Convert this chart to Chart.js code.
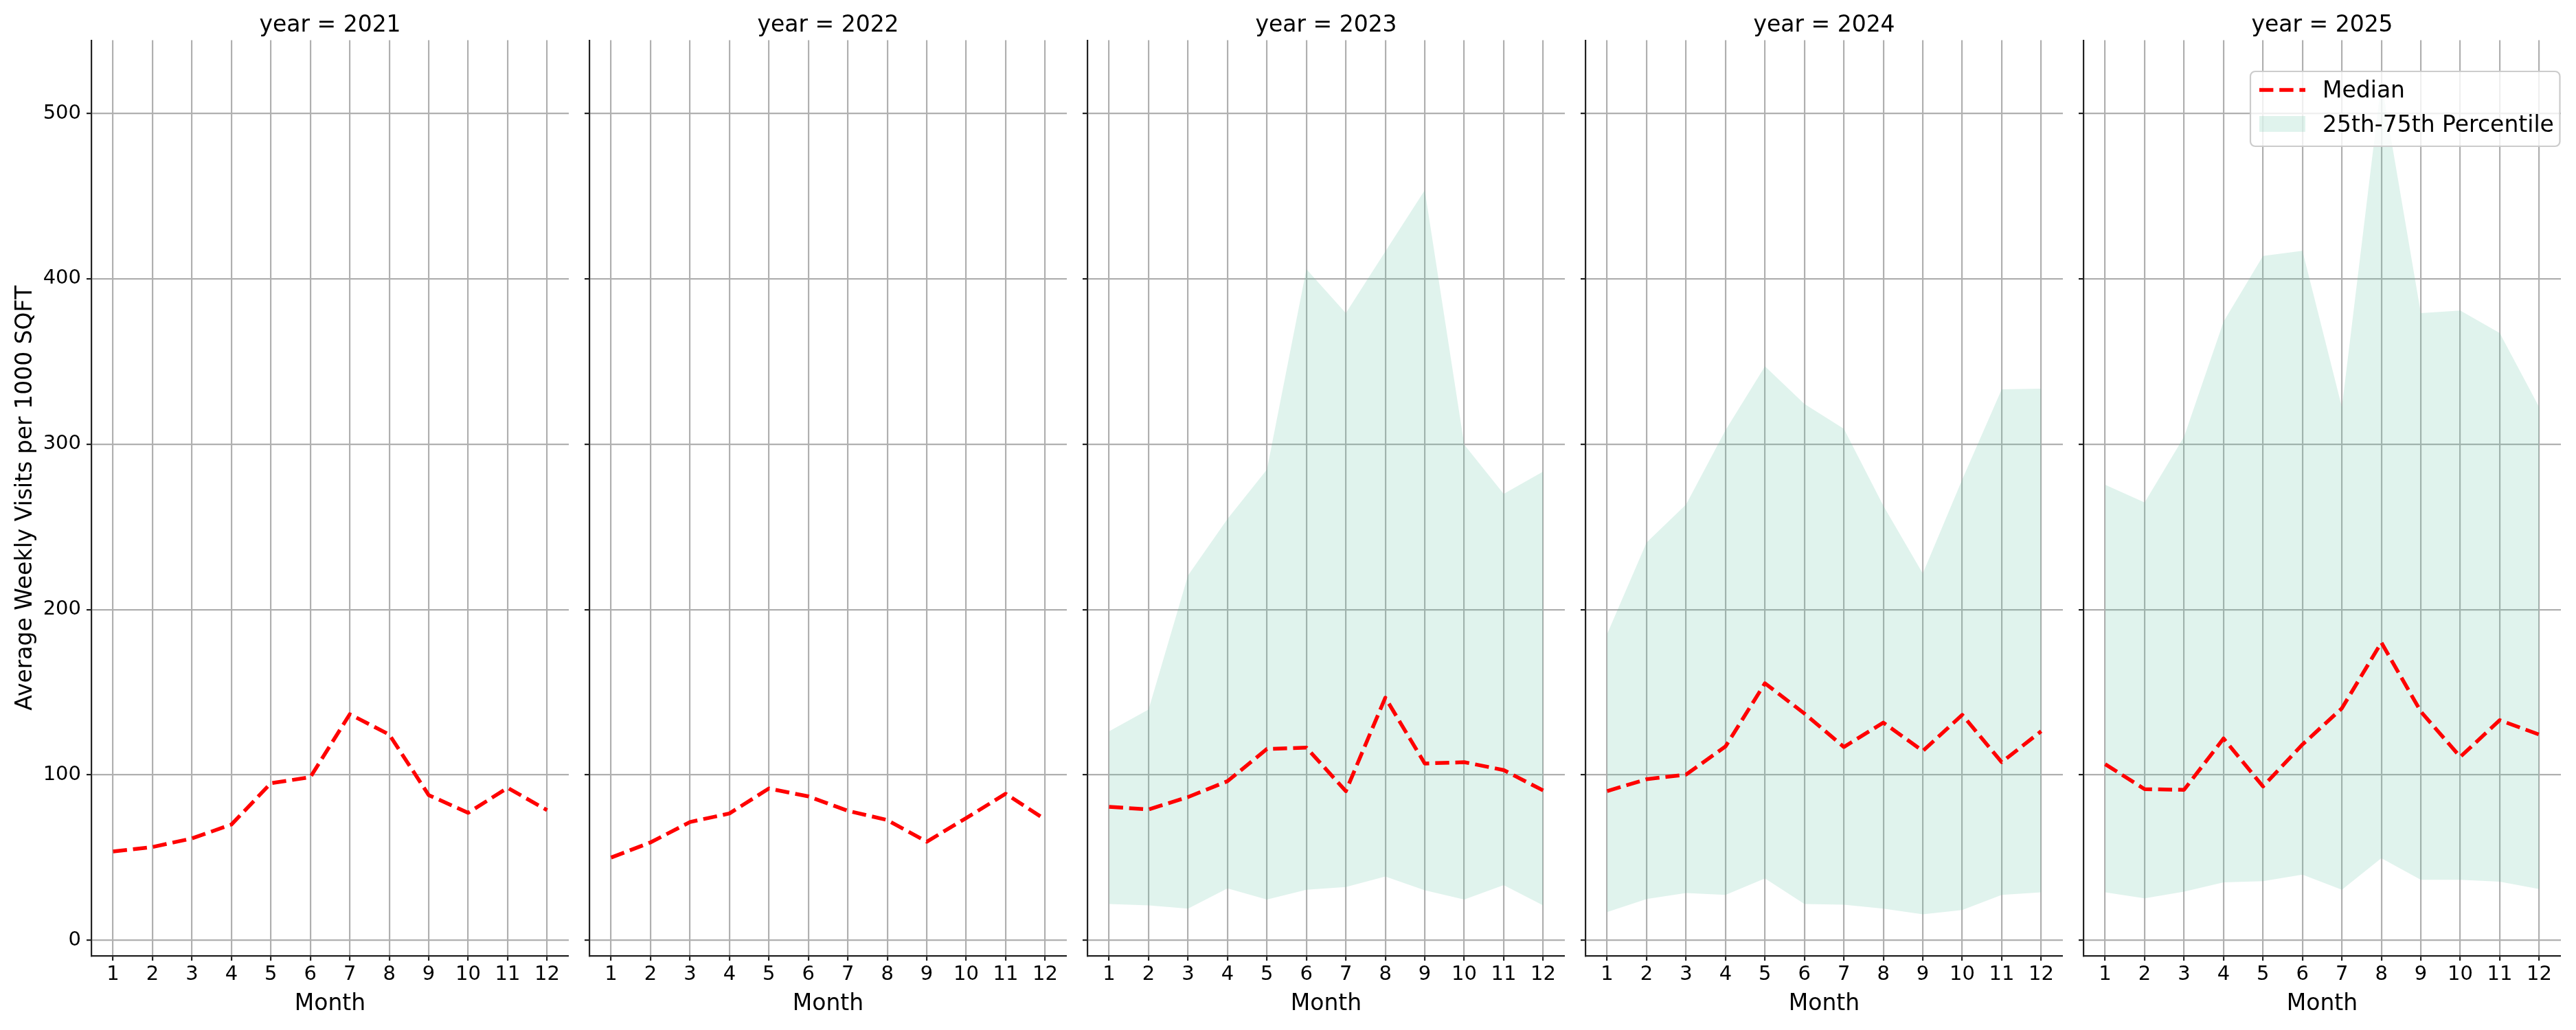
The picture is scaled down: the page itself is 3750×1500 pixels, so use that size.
<!DOCTYPE html>
<html>
<head>
<meta charset="utf-8">
<script src="https://cdn.jsdelivr.net/npm/chart.js@4.4.1/dist/chart.umd.min.js"></script>
<style>
  html, body { margin: 0; padding: 0; background: #fff; }
  #fig { position: relative; width: 3750px; height: 1500px; overflow: hidden; }
  #fig canvas { position: absolute; top: 0; }
</style>
</head>
<body>
<div id="fig"></div>
<script>
// Data
const months = [1, 2, 3, 4, 5, 6, 7, 8, 9, 10, 11, 12];
const years = [2021, 2022, 2023, 2024, 2025];
const yTicks = [0, 100, 200, 300, 400, 500];
const legendLabels = ['Median', '25th-75th Percentile'];

const median2021 = [53.7, 56.4, 61.6, 70, 95, 98.6, 136.7, 124.4, 87.8, 77.1, 92.2, 78.7];
const median2022 = [50, 59.2, 71.5, 76.7, 91.8, 87, 78.3, 72.7, 59.6, 73.9, 88.6, 73.1];
const median2023 = [80.7, 79.1, 86.6, 96.2, 115.7, 116.5, 90.2, 146.7, 106.9, 107.7, 102.9, 90.6];
const median2024 = [90.2, 97.4, 100.2, 117.2, 155.4, 137.1, 116.9, 131.6, 114.5, 136.3, 107.7, 126.4];
const median2025 = [106.5, 91.4, 91, 122, 93, 118.4, 140.3, 180, 138.3, 110.9, 133.1, 124.4];

const p25_2023 = [21.9, 21.1, 19.1, 31.4, 24.6, 30.6, 32.2, 38.6, 30.2, 24.6, 33.4, 21.1];
const p75_2023 = [126.4, 139.5, 220.6, 254.8, 284.6, 405.8, 379.2, 416.5, 453.5, 299.7, 269.9, 283.4];
const p25_2024 = [17.1, 25, 28.6, 27.4, 37.4, 21.9, 21.5, 19.1, 15.7, 18.3, 27.4, 29];
const p75_2024 = [185.2, 240.5, 263.5, 308.4, 347, 324.3, 309.2, 262.7, 221.8, 278.6, 333.1, 333.5];
const p25_2025 = [29, 25.4, 29.4, 35, 35.8, 39.7, 30.6, 49.7, 36.6, 36.6, 35.4, 31];
const p75_2025 = [275.4, 264.7, 304.5, 374, 413.8, 416.9, 322.3, 519, 379.2, 380.8, 367.2, 322.3];

const medians = [median2021, median2022, median2023, median2024, median2025];
const lowers = [null, null, p25_2023, p25_2024, p25_2025];
const uppers = [null, null, p75_2023, p75_2024, p75_2025];

// axis limits (matplotlib auto margins)
const xMin = 0.45, xMax = 12.55;
const yMin = -9.4, yMax = 544.2;

// layout
const FIG_H = 1500;
const PANEL_LEFT = 133, PANEL_W = 695, PANEL_STRIDE = 725;
const PLOT_BOTTOM = 1392;
const FONT = 'DejaVu Sans';
const BAND_COLOR = 'rgba(102, 194, 165, 0.2)';
const INK = '#222222';

function toPoints(arr) {
  return months.map((m, i) => ({ x: m, y: arr[i] }));
}

// legend drawn inside the last panel
const bandLegend = {
  id: 'bandLegend',
  afterDraw(chart) {
    const { ctx, chartArea } = chart;
    const x1 = chartArea.right - 1.5, x0 = chartArea.right - 452;
    const y0 = 104, y1 = 213, r = 7;
    ctx.save();
    ctx.beginPath();
    ctx.roundRect(x0, y0, x1 - x0, y1 - y0, r);
    ctx.fillStyle = 'rgba(255,255,255,0.8)';
    ctx.fill();
    ctx.lineWidth = 2.2;
    ctx.strokeStyle = '#cccccc';
    ctx.stroke();

    ctx.beginPath();
    ctx.setLineDash([20.4, 8.8]);
    ctx.strokeStyle = '#ff0000';
    ctx.lineWidth = 5.5;
    ctx.moveTo(x0 + 13, 131);
    ctx.lineTo(x0 + 80, 131);
    ctx.stroke();
    ctx.setLineDash([]);

    ctx.fillStyle = BAND_COLOR;
    ctx.fillRect(x0 + 13, 169, 67, 23);

    ctx.fillStyle = '#000';
    ctx.font = '33px "' + FONT + '"';
    ctx.textBaseline = 'alphabetic';
    ctx.textAlign = 'left';
    ctx.fillText(legendLabels[0], x0 + 105, 142);
    ctx.fillText(legendLabels[1], x0 + 105, 192);
    ctx.restore();
  }
};

const fig = document.getElementById('fig');

years.forEach((year, i) => {
  const yAxisW = i === 0 ? PANEL_LEFT : 30;
  const canvasLeft = PANEL_LEFT + i * PANEL_STRIDE - yAxisW;
  const canvas = document.createElement('canvas');
  canvas.width = yAxisW + PANEL_W;
  canvas.height = FIG_H;
  canvas.style.left = canvasLeft + 'px';
  canvas.style.width = canvas.width + 'px';
  canvas.style.height = FIG_H + 'px';
  fig.appendChild(canvas);

  const datasets = [{
    label: legendLabels[0],
    data: toPoints(medians[i]),
    borderColor: '#ff0000',
    borderWidth: 5.5,
    borderDash: [20.4, 8.8],
    borderJoinStyle: 'round',
    pointRadius: 0,
    fill: false,
    tension: 0
  }];
  if (lowers[i]) {
    datasets.push({
      label: 'p25',
      data: toPoints(lowers[i]),
      borderColor: 'rgba(0,0,0,0)',
      borderWidth: 0,
      pointRadius: 0,
      fill: false
    });
    datasets.push({
      label: legendLabels[1],
      data: toPoints(uppers[i]),
      borderColor: 'rgba(0,0,0,0)',
      borderWidth: 0,
      pointRadius: 0,
      backgroundColor: BAND_COLOR,
      fill: '-1'
    });
  }

  new Chart(canvas, {
    type: 'line',
    data: { datasets },
    plugins: i === years.length - 1 ? [bandLegend] : [],
    options: {
      responsive: false,
      animation: false,
      devicePixelRatio: 1,
      layout: { padding: 0 },
      plugins: {
        legend: { display: false },
        tooltip: { enabled: false },
        title: {
          display: true,
          fullSize: false,
          text: 'year = ' + year,
          color: '#000',
          font: { family: FONT, size: 33, weight: 'normal' },
          padding: { top: 18, bottom: 1 }
        }
      },
      scales: {
        x: {
          type: 'linear',
          min: xMin,
          max: xMax,
          afterBuildTicks: ax => { ax.ticks = months.map(v => ({ value: v })); },
          afterFit: s => { s.height = FIG_H - PLOT_BOTTOM; },
          ticks: {
            color: '#000',
            font: { family: FONT, size: 29 },
            padding: 3,
            maxRotation: 0,
            autoSkip: false
          },
          grid: {
            color: '#b0b0b0',
            lineWidth: 2.2,
            tickColor: INK,
            tickWidth: 2.2,
            tickLength: 7
          },
          border: { display: true, color: INK, width: 2.2 },
          title: {
            display: true,
            text: 'Month',
            color: '#000',
            font: { family: FONT, size: 33 },
            padding: { top: 0, bottom: 18 }
          }
        },
        y: {
          type: 'linear',
          min: yMin,
          max: yMax,
          afterBuildTicks: ax => { ax.ticks = yTicks.map(v => ({ value: v })); },
          afterFit: s => { s.width = yAxisW; },
          ticks: {
            display: i === 0,
            color: '#000',
            font: { family: FONT, size: 29 },
            padding: 8
          },
          grid: {
            color: '#b0b0b0',
            lineWidth: 2.2,
            tickColor: INK,
            tickWidth: 2.2,
            tickLength: 7
          },
          border: { display: true, color: INK, width: 2.2 },
          title: {
            display: i === 0,
            text: 'Average Weekly Visits per 1000 SQFT',
            color: '#000',
            font: { family: FONT, size: 33 },
            padding: { top: 18, bottom: 0 }
          }
        }
      }
    }
  });
});
</script>
</body>
</html>
